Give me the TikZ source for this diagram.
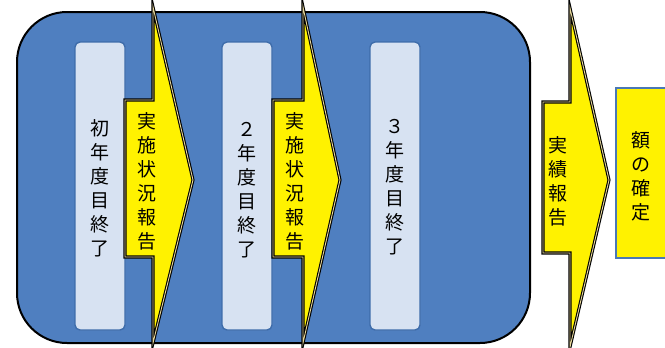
\documentclass[tikz,border=0pt]{standalone}
\usepackage{fontspec}
\newfontfamily\jpfont{Noto Sans CJK JP}
\definecolor{frameblue}{HTML}{4F7FC0}
\definecolor{barfill}{HTML}{D7E2F2}
\definecolor{barline}{HTML}{3E6CAA}
\definecolor{boxline}{HTML}{4A78B5}
\definecolor{rimline}{HTML}{E6D79A}
\tikzset{
  frame/.style={draw=black, line width=2pt, fill=frameblue, rounded corners=50pt},
  yearbar/.style={draw=barline, line width=1.4pt, fill=barfill, rounded corners=5pt},
  yarrow/.style={draw=black, line width=1.1pt, double=rimline, double distance=0.9pt, fill=yellow, line join=miter},
  vlabel/.style={inner sep=0pt, align=center, font=\jpfont\fontsize{19}{24}\selectfont, text=black},
  endbox/.style={draw=boxline, line width=2.6pt, fill=yellow}
}
\begin{document}
\begin{tikzpicture}[x=1pt,y=-1pt]
\useasboundingbox (0,0) rectangle (665,348);
\fill[white] (0,0) rectangle (665,348);
% main frame
\draw[frame] (17,12) rectangle (530,343);
% year bars
\draw[yearbar] (75,42) rectangle (125,330);
\draw[yearbar] (222,42) rectangle (272,330);
\draw[yearbar] (370,42) rectangle (420,330);
% arrows
\draw[yarrow] (153,7) -- (193,180) -- (153,343) -- (153,257) -- (125,257) -- (125,100) -- (153,100) -- cycle;
\draw[yarrow] (303,7) -- (340,180) -- (303,343) -- (303,257) -- (273,257) -- (273,100) -- (303,100) -- cycle;
\draw[yarrow] (570,8) -- (609,180) -- (570,347) -- (570,253) -- (543,253) -- (543,102) -- (570,102) -- cycle;
% final box
\draw[endbox] (616,88) rectangle (690,258);
% labels
\node[vlabel] (y1) at (100,188) {初\\年\\度\\目\\終\\了};
\node[vlabel] (a1) at (147,181) {実\\施\\状\\況\\報\\告};
\node[vlabel] (y2) at (247,190) {２\\年\\度\\目\\終\\了};
\node[vlabel] (a2) at (295,181) {実\\施\\状\\況\\報\\告};
\node[vlabel] (y3) at (395,187) {３\\年\\度\\目\\終\\了};
\node[vlabel] (a3) at (558,181) {実\\績\\報\\告};
\node[vlabel] (fin) at (641,176) {額\\の\\確\\定};
\end{tikzpicture}
\end{document}
